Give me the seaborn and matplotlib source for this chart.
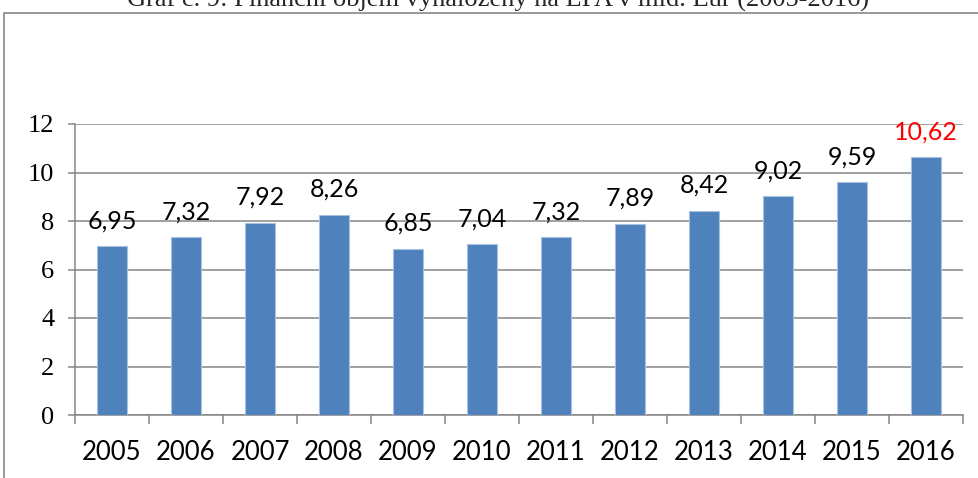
import matplotlib
matplotlib.use("Agg")
import matplotlib.pyplot as plt
import seaborn as sns
import pandas as pd
from matplotlib.patches import Rectangle
from matplotlib.ticker import FixedLocator

years = ["2005", "2006", "2007", "2008", "2009", "2010",
         "2011", "2012", "2013", "2014", "2015", "2016"]
values = [6.95, 7.32, 7.92, 8.26, 6.85, 7.04, 7.32, 7.89, 8.42, 9.02, 9.59, 10.62]
label_colors = ["black"] * 11 + ["#FF0000"]
y_ticks = [0, 2, 4, 6, 8, 10, 12]
title = "Graf č. 9: Finanční objem vynaložený na LPA v mld. Eur (2005-2016)"

sns.set_theme(style="white")
plt.rcParams["font.family"] = ["Lato", "DejaVu Sans"]

df = pd.DataFrame({"rok": years, "objem": values})

fig = plt.figure(figsize=(9.79, 4.78), dpi=100)
ax = fig.add_axes([75 / 979, 1 - 415 / 478, (963 - 75) / 979, (415 - 124) / 478])

sns.barplot(data=df, x="rok", y="objem", color="#4F81BD", saturation=1,
            width=0.4, edgecolor="#A9C1E0", linewidth=0.8, ax=ax, zorder=3)

grid = "#868686"
ax.set_ylim(0, 12)
ax.set_xlim(-0.5, len(years) - 0.5)
ax.set_yticks(y_ticks)
ax.yaxis.grid(True, color=grid, linewidth=1.1)
ax.set_axisbelow(True)
for s in ["top", "right"]:
    ax.spines[s].set_visible(False)
for s in ["left", "bottom"]:
    ax.spines[s].set_color(grid)
    ax.spines[s].set_linewidth(1.1)

ax.tick_params(axis="y", length=5, width=1.1, color=grid, pad=10, left=True,
               labelsize=19, labelfontfamily="Liberation Serif", labelcolor="black")
ax.tick_params(axis="x", length=0, pad=18, labelsize=18.5, labelcolor="black")
ax.xaxis.set_minor_locator(FixedLocator([i - 0.5 for i in range(len(years) + 1)]))
ax.tick_params(axis="x", which="minor", length=6.5, width=1.1, color=grid, bottom=True)
ax.set_xlabel("")
ax.set_ylabel("")

for i, (v, c) in enumerate(zip(values, label_colors)):
    ax.annotate(f"{v:.2f}".replace(".", ","), (i, v), xytext=(0, 13),
                textcoords="offset points", ha="center", va="baseline",
                fontsize=18, color=c, clip_on=False)

fig.text(498 / 979, 1 - 7 / 478, title, ha="center", va="baseline",
         family="Liberation Serif", fontsize=19)
fig.add_artist(Rectangle((4.5 / 979, -0.5), 2, 0.5 + 1 - 12.5 / 478,
                         transform=fig.transFigure, fill=False,
                         edgecolor="#888888", linewidth=1.2))

fig.savefig("out.png", dpi=100)
